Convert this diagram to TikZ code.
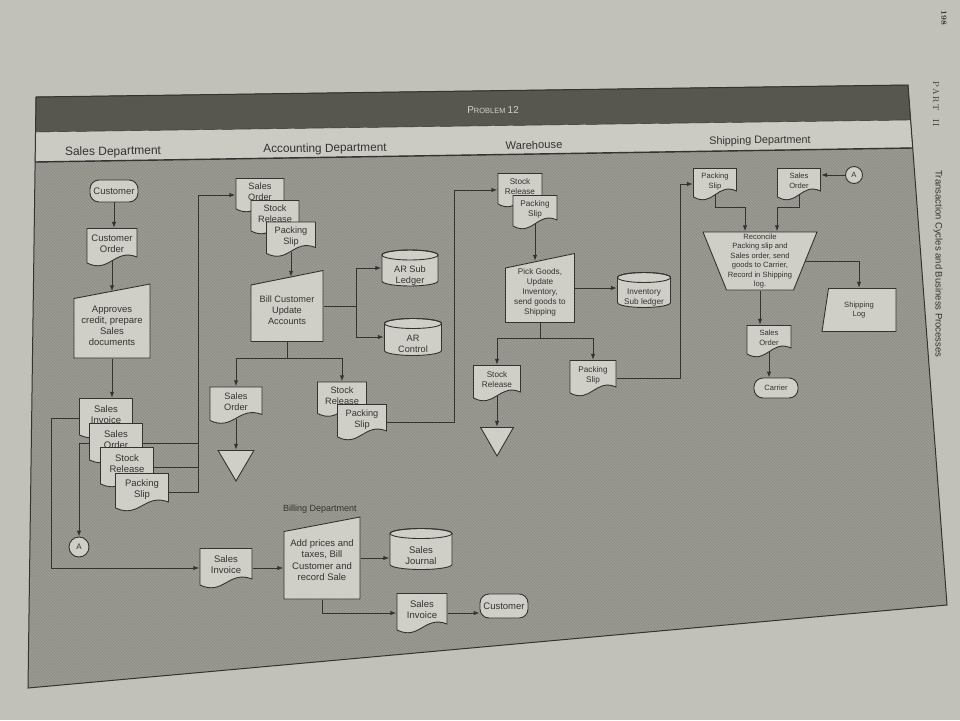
\documentclass[tikz,border=0pt]{standalone}
\usepackage{fontspec}
\setsansfont{Liberation Sans}
\usepackage{tikz}
\usetikzlibrary{positioning}
\usetikzlibrary{calc,patterns}
\usetikzlibrary{arrows.meta}
\definecolor{paper}{HTML}{C1C1B9}
\definecolor{barcol}{HTML}{57574F}
\definecolor{bandcol}{HTML}{CBCBC3}
\definecolor{bodycol}{HTML}{9C9C94}
\definecolor{boxfill}{HTML}{CFCFC7}
\colorlet{ink}{black!80}
\tikzset{>={Latex[length=6pt,width=4.5pt]}}
\newcommand{\setfs}[2]{\fontsize{#1}{#2}\selectfont}

\begin{document}
\begin{tikzpicture}[x=1pt, y=-1pt, font=\sffamily,
    flow/.style={draw=ink, line width=1pt, ->},
    wire/.style={draw=ink, line width=1pt},
    box/.style={inner sep=1pt, align=center, text=ink},
    term/.style={box, draw=ink, fill=boxfill, line width=.9pt, rounded corners=9pt,
      minimum width=46, minimum height=21},
    conn/.style={box, circle, draw=ink, fill=boxfill, line width=.9pt,
      minimum size=18, inner sep=0pt},
    doc/.style={box, text depth=7pt, minimum width=50, minimum height=36,
      path picture={
        \draw[ink, line width=.9pt, fill=boxfill]
          let \p1=(path picture bounding box.south west),
              \p2=(path picture bounding box.north east),
              \n1={\x2-\x1} in
          (\x1+.5pt,\y2-.5pt) -- (\x2-.5pt,\y2-.5pt) -- (\x2-.5pt,\y1+9pt)
          .. controls (\x1+.55*\n1,\y1+18pt) and (\x1+.45*\n1,\y1-8pt) .. (\x1+.5pt,\y1+3pt) -- cycle;
      }},
    mi/.style={box, minimum width=74, minimum height=72,
      path picture={
        \draw[ink, line width=.9pt, fill=boxfill]
          ([shift={(.5pt,.5pt)}]path picture bounding box.south west)
          -- ([shift={(-.5pt,.5pt)}]path picture bounding box.south east)
          -- ([shift={(-.5pt,-.5pt)}]path picture bounding box.north east)
          -- ([shift={(.5pt,-15pt)}]path picture bounding box.north west) -- cycle;
      }},
    mo/.style={box,
      path picture={
        \draw[ink, line width=.9pt, fill=boxfill]
          ([shift={(.5pt,-.5pt)}]path picture bounding box.north west)
          -- ([shift={(-.5pt,-.5pt)}]path picture bounding box.north east)
          -- ([shift={(-24pt,.5pt)}]path picture bounding box.south east)
          -- ([shift={(24pt,.5pt)}]path picture bounding box.south west) -- cycle;
      }},
    lg/.style={box,
      path picture={
        \draw[ink, line width=.9pt, fill=boxfill]
          ([shift={(.5pt,.5pt)}]path picture bounding box.south west)
          -- ([shift={(-.5pt,.5pt)}]path picture bounding box.south east)
          -- ([shift={(-.5pt,-.5pt)}]path picture bounding box.north east)
          -- ([shift={(7pt,-.5pt)}]path picture bounding box.north west) -- cycle;
      }},
    tri/.style={box, minimum width=36, minimum height=30,
      path picture={
        \draw[ink, line width=.9pt, fill=boxfill]
          ([shift={(.6pt,-.5pt)}]path picture bounding box.north west)
          -- ([shift={(-.6pt,-.5pt)}]path picture bounding box.north east)
          -- ([yshift=1pt]path picture bounding box.south) -- cycle;
      }},
    db/.style={box, text height=32pt, minimum width=#1, minimum height=36,
      path picture={
        \draw[ink, line width=.9pt, fill=boxfill]
          ([shift={(.5pt,-5.5pt)}]path picture bounding box.north west)
          -- ([shift={(.5pt,5.5pt)}]path picture bounding box.south west)
          arc[start angle=180, end angle=360, x radius=#1/2-.5pt, y radius=5pt]
          -- ([shift={(-.5pt,-5.5pt)}]path picture bounding box.north east)
          arc[start angle=0, end angle=180, x radius=#1/2-.5pt, y radius=5pt] -- cycle;
        \draw[ink, line width=.9pt]
          ([yshift=-5.5pt]path picture bounding box.north) ellipse[x radius=#1/2-.5pt, y radius=5pt];
      }},
    db/.default=56pt]

\useasboundingbox (0,0) rectangle (960,720);
\fill[paper] (0,0) rectangle (960,720);

% Frame, title bar and lane headers
\fill[bodycol] (35.1,162) -- (912.7,148) -- (947,605) -- (28,688) -- cycle;
\fill[pattern=north west lines, pattern color=bodycol!88!black]
  (35.1,162) -- (912.7,148) -- (947,605) -- (28,688) -- cycle;
\filldraw[fill=barcol, draw=ink] (36,97) -- (908,85) -- (910.6,120) -- (35.5,132) -- cycle;
\filldraw[fill=bandcol, draw=ink] (35.5,132) -- (910.6,120) -- (912.7,148) -- (35.1,162) -- cycle;
\draw[ink, line width=1pt] (36,97) -- (908,85) -- (947,605) -- (28,688) -- cycle;
\draw[ink, line width=1.4pt] (35.1,162) -- (912.7,148);

\node[text=bandcol!90!white, rotate=0.8] (title) at (493,110)
  {\setfs{10}{10}P\setfs{7.5}{8}ROBLEM \setfs{10}{10}12};
\node[box, rotate=0.8, font=\sffamily\setfs{12}{12}] (hsales) at (113,152) {Sales Department};
\node[box, rotate=0.8, font=\sffamily\setfs{11.8}{12}] (hacct) at (325,149) {Accounting Department};
\node[box, rotate=0.8, font=\sffamily\setfs{11.2}{12}] (hware) at (534,145) {Warehouse};
\node[box, rotate=0.8, font=\sffamily\setfs{10.8}{12}] (hship) at (760,141) {Shipping Department};

% Page margin
\node[box, rotate=-90, font=\rmfamily\bfseries\setfs{8}{8}] (pgno) at (944,18) {198};
\node[box, rotate=-90, font=\rmfamily\setfs{8.5}{9}] (part) at (936,104) {P\,A\,R\,T\quad I\,I};
\node[box, rotate=-90, font=\sffamily\setfs{9.5}{10}] (chap) at (938,264)
  {Transaction Cycles and Business Processes};

% Sales department
\begin{scope}[font=\sffamily\setfs{9.5}{11}]
\node[term, minimum width=48, minimum height=22] (cust1) at (114,191) {Customer};
\node[doc, minimum width=51, minimum height=38] (custord) at (112,247) {Customer\\Order};
\node[mi, text height=50pt, minimum width=77, minimum height=75] (approve) at (112,321)
  {Approves\\credit, prepare\\Sales\\documents};
\node[doc, minimum width=54, minimum height=40] (sinv1) at (106,418) {Sales\\Invoice};
\node[doc, minimum width=54, minimum height=40] (sord1) at (116,443) {Sales\\Order};
\node[doc, minimum width=54, minimum height=40] (srel1) at (127,467) {Stock\\Release};
\node[doc, minimum width=54, minimum height=38] (pslip1) at (142,492) {Packing\\Slip};
\node[conn, minimum size=20] (conA1) at (79,547) {\setfs{8}{8}A};
\coordinate (sbus) at (198,195);
\end{scope}

% Accounting department
\begin{scope}[font=\sffamily\setfs{9.2}{11}]
\node[doc, minimum width=49, minimum height=34] (sord2) at (260,195) {Sales\\Order};
\node[doc, minimum width=49, minimum height=34] (srel2) at (275,217) {Stock\\Release};
\node[doc, minimum width=50, minimum height=35] (pslip2) at (291,239) {Packing\\Slip};
\node[mi, text height=37pt, minimum width=73, minimum height=72] (bill) at (287,306)
  {Bill Customer\\Update\\Accounts};
\node[db=57pt, minimum height=37] (arsub) at (410,268) {AR Sub\\Ledger};
\node[db=58pt, minimum height=38] (arctl) at (413,337) {AR\\Control};
\node[doc, minimum width=53, minimum height=37] (sord3) at (236,405) {Sales\\Order};
\node[doc, minimum width=50, minimum height=35] (srel3) at (342,399) {Stock\\Release};
\node[doc, minimum width=50, minimum height=36] (pslip3) at (362,422) {Packing\\Slip};
\node[tri, minimum width=37, minimum height=32] (file1) at (236,466) {};
\end{scope}

% Billing department
\begin{scope}[font=\sffamily\setfs{9.5}{11.5}]
\node[box, font=\sffamily\setfs{9}{10}] (hbill) at (320,509) {Billing Department};
\node[doc, minimum width=53, minimum height=40] (sinv2) at (226,568) {Sales\\Invoice};
\node[mi, text height=46pt, minimum width=77, minimum height=83] (addp) at (322,558)
  {Add prices and\\taxes, Bill\\Customer and\\record Sale};
\node[db=63pt, minimum height=42] (sjour) at (421,549) {Sales\\Journal};
\node[doc, minimum width=51, minimum height=40] (sinv3) at (422,613) {Sales\\Invoice};
\node[term, minimum width=48, minimum height=24] (cust2) at (504,606) {Customer};
\end{scope}

% Warehouse
\begin{scope}[font=\sffamily\setfs{8.2}{10}]
\node[doc, minimum width=45, minimum height=34] (srel4) at (520,190) {Stock\\Release};
\node[doc, minimum width=45, minimum height=34] (pslip4) at (535,212) {Packing\\Slip};
\node[mi, text height=55pt, minimum width=70, minimum height=70] (pick) at (540,288)
  {Pick Goods,\\Update\\Inventory,\\send goods to\\Shipping};
\node[db=54pt, text height=30pt, minimum height=36] (invsub) at (644,290) {Inventory\\Sub ledger};
\node[doc, minimum width=48, minimum height=36] (srel5) at (497,383) {Stock\\Release};
\node[doc, minimum width=47, minimum height=36] (pslip5) at (593,378) {Packing\\Slip};
\node[tri, minimum width=34, minimum height=30] (file2) at (497,442) {};
\end{scope}

% Shipping department
\begin{scope}[font=\sffamily\setfs{7.6}{9.5}]
\node[doc, minimum width=44, minimum height=32] (pslip6) at (715,184) {Packing\\Slip};
\node[doc, minimum width=44, minimum height=32] (sord6) at (799,184) {Sales\\Order};
\node[conn, minimum size=17] (conA2) at (854,175) {A};
\node[mo, minimum width=115, minimum height=59] (recon) at (760,261)
  {Reconcile\\Packing slip and\\Sales order, send\\goods to Carrier,\\Record in Shipping\\log.};
\node[lg, minimum width=75, minimum height=44] (shiplog) at (859,310) {Shipping\\Log};
\node[doc, minimum width=45, minimum height=32] (sord7) at (769,341) {Sales\\Order};
\node[term, minimum width=44, minimum height=20] (carrier) at (776,388) {Carrier};
\end{scope}

% Flows: sales
\draw[flow] (cust1.south) -- (cust1.south |- custord.north);
\draw[flow] ([yshift=5pt]custord.south) -- ([yshift=-8pt]custord.south |- approve.north);
\draw[flow] (approve.south) -- (approve.south |- sinv1.north);
\draw[flow] (sinv1.west) -- ++(-27,0) |- (sinv2.west);
\draw[flow] (sord1.west) -| (conA1.north);
\draw[wire] (sord1.east) -- (sord1.east -| sbus);
\draw[wire] (srel1.east) -- (srel1.east -| sbus);
\draw[flow] (pslip1.east) -| (sbus) -- (sord2.west);

% Flows: accounting
\draw[flow] ([yshift=5pt]pslip2.south) -- ([yshift=-7pt]pslip2.south |- bill.north);
\draw[wire] (bill.east) -- ++(33,0) coordinate (bj1);
\draw[flow] (bj1) |- (arsub.west);
\draw[flow] (bj1) |- (arctl.west);
\draw[wire] (bill.south) -- ++(0,16) coordinate (bj2);
\draw[flow] (bj2) -| (sord3.north);
\draw[flow] (bj2) -| (srel3.north);
\draw[flow] ([yshift=5pt]sord3.south) -- (sord3.south |- file1.north);
\draw[flow] (pslip3.east) -- ++(67,0) |- (srel4.west);

% Flows: billing
\draw[flow] (sinv2.east) -- (sinv2.east -| addp.west);
\draw[flow] (addp.east) -- (addp.east -| sjour.west);
\draw[flow] (addp.south) |- (sinv3.west);
\draw[flow] (sinv3.east) -- (sinv3.east -| cust2.west);

% Flows: warehouse
\draw[flow] ([yshift=5pt]pslip4.south) -- ([yshift=-8pt]pslip4.south |- pick.north);
\draw[flow] (pick.east) -- (pick.east -| invsub.west);
\draw[wire] (pick.south) -- ++(0,15) coordinate (wj);
\draw[flow] (wj) -| (srel5.north);
\draw[flow] (wj) -| (pslip5.north);
\draw[flow] ([yshift=5pt]srel5.south) -- (srel5.south |- file2.north);
\draw[flow] (pslip5.east) -- ++(64,0) |- (pslip6.west);

% Flows: shipping
\draw[flow] (conA2.west) -- (conA2.west -| sord6.east);
\draw[flow] ([yshift=5pt]pslip6.south) -- ++(0,12) -| ([xshift=-15pt]recon.north);
\draw[flow] ([yshift=5pt]sord6.south) -- ++(0,12) -| ([xshift=17pt]recon.north);
\draw[flow] ([xshift=-12pt]recon.east) -| (shiplog.north);
\draw[flow] (recon.south) -- (recon.south |- sord7.north);
\draw[flow] ([yshift=5pt]sord7.south) -- (sord7.south |- carrier.north);
\end{tikzpicture}
\end{document}
